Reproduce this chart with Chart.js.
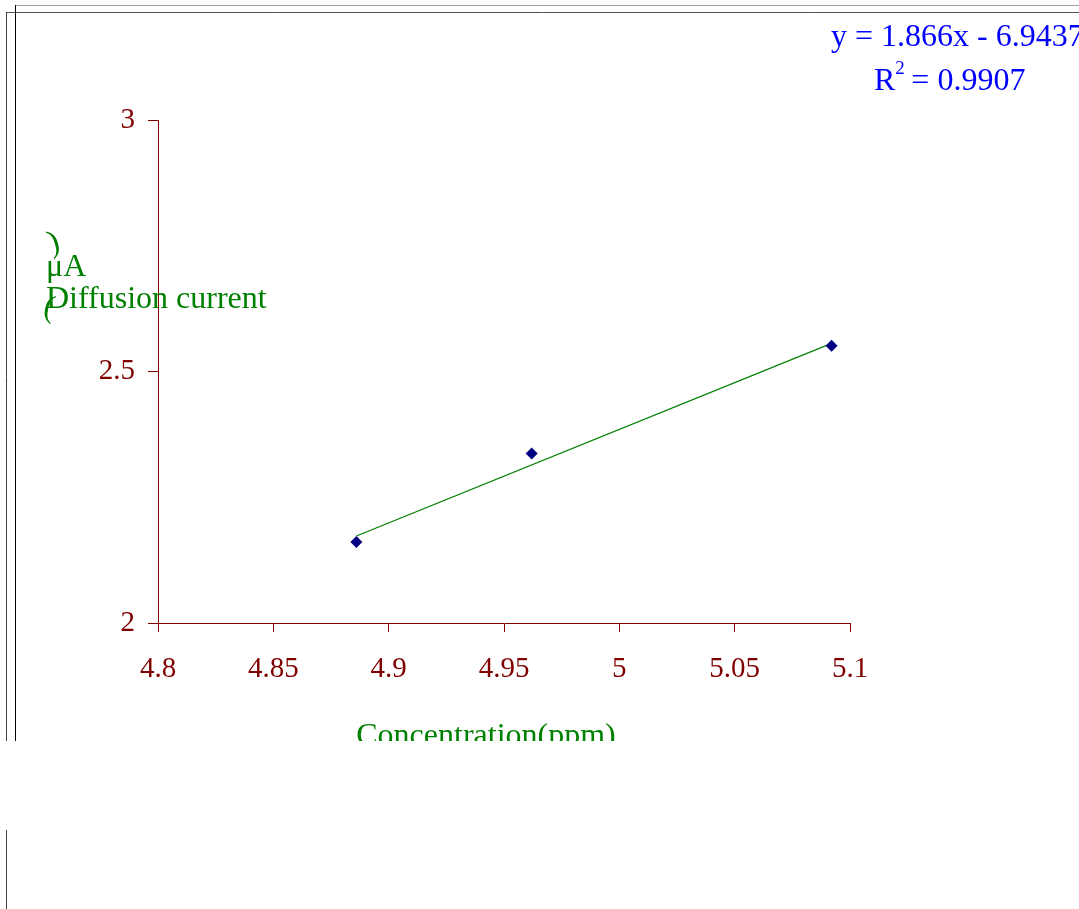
<!DOCTYPE html>
<html>
<head>
<meta charset="utf-8">
<script src="https://cdn.jsdelivr.net/npm/chart.js@4/dist/chart.umd.min.js"></script>
<style>
html,body{margin:0;padding:0;background:#fff;}
#wrap{position:absolute;left:0;top:0;width:1079px;height:909px;}
</style>
</head>
<body>
<div id="wrap"><canvas id="c" width="1079" height="909"></canvas></div>
<script>
// Data
const concentration = [4.886, 4.962, 5.092];
const current = [2.161, 2.337, 2.551];
const trendX = [4.886, 5.092];
const trendY = [2.173, 2.556];
const xTicks = [4.8, 4.85, 4.9, 4.95, 5, 5.05, 5.1];
const yTicks = [2, 2.5, 3];
const equationText = "y = 1.866x - 6.9437";
const r2Value = "0.9907";
const xTitle = "Concentration(ppm)";
const yTitleParts = [")", "\u03BCA", "Diffusion current", "("];

const RED = "#800000";
const GREEN = "#008000";
const SERIF = "'Liberation Serif', 'DejaVu Serif', serif";

const decor = {
  id: "decor",
  beforeDraw(chart) {
    const ctx = chart.ctx;
    ctx.save();
    ctx.fillStyle = "#fff";
    ctx.fillRect(0, 0, chart.width, chart.height);
    ctx.restore();
  },
  afterDraw(chart) {
    const ctx = chart.ctx;
    ctx.save();
    // equation
    ctx.fillStyle = "#0000FF";
    ctx.font = "32px " + SERIF;
    ctx.textBaseline = "alphabetic";
    ctx.textAlign = "left";
    ctx.fillText(equationText, 831, 46);
    ctx.fillText("R", 874, 90);
    const rw = ctx.measureText("R").width;
    ctx.font = "19px " + SERIF;
    ctx.fillText("2", 874 + rw, 74);
    ctx.font = "32px " + SERIF;
    ctx.fillText(" = " + r2Value, 874 + rw + 8, 90);

    // y title (broken vertical rendering)
    ctx.fillStyle = GREEN;
    ctx.font = "32px " + SERIF;
    ctx.fillText(yTitleParts[1], 46, 276);
    ctx.fillText(yTitleParts[2], 46, 308);
    ctx.save();
    ctx.translate(53, 242);
    ctx.rotate(-0.3);
    ctx.fillText(yTitleParts[0], -5, 10);
    ctx.restore();
    ctx.save();
    ctx.translate(50, 303);
    ctx.rotate(0.2);
    ctx.fillText(yTitleParts[3], -5, 14);
    ctx.restore();

    // x title
    ctx.textAlign = "center";
    ctx.fillText(xTitle, 486, 745);

    // clip region
    ctx.fillStyle = "#fff";
    ctx.fillRect(0, 741, chart.width, chart.height - 741);

    // frame lines
    ctx.lineWidth = 1;
    ctx.strokeStyle = "#a0a0a0";
    ctx.beginPath(); ctx.moveTo(15, 5.5); ctx.lineTo(1079, 5.5); ctx.stroke();
    ctx.strokeStyle = "#505050";
    ctx.beginPath(); ctx.moveTo(6, 12.5); ctx.lineTo(1079, 12.5); ctx.stroke();
    ctx.strokeStyle = "#000";
    ctx.beginPath(); ctx.moveTo(15.5, 5); ctx.lineTo(15.5, 741); ctx.stroke();
    ctx.strokeStyle = "#404040";
    ctx.beginPath(); ctx.moveTo(6.5, 12); ctx.lineTo(6.5, 741); ctx.stroke();
    ctx.beginPath(); ctx.moveTo(6.5, 830); ctx.lineTo(6.5, 909); ctx.stroke();
    ctx.restore();
  }
};

new Chart(document.getElementById("c"), {
  type: "scatter",
  data: {
    datasets: [
      {
        label: "Trend",
        type: "line",
        data: trendX.map((x, i) => ({ x: x, y: trendY[i] })),
        borderColor: GREEN,
        borderWidth: 1.2,
        pointRadius: 0,
        fill: false,
        order: 2
      },
      {
        label: "Diffusion current",
        data: concentration.map((x, i) => ({ x: x, y: current[i] })),
        backgroundColor: "#000080",
        borderColor: "#000080",
        pointStyle: "rectRot",
        pointRadius: 6,
        borderWidth: 0,
        order: 1
      }
    ]
  },
  options: {
    responsive: false,
    animation: false,
    events: [],
    layout: { padding: { left: 0, top: 120, right: 229, bottom: 186 } },
    plugins: { legend: { display: false }, tooltip: { enabled: false } },
    scales: {
      x: {
        type: "linear",
        min: 4.8, max: 5.1,
        afterBuildTicks(s) { s.ticks = xTicks.map(v => ({ value: v })); },
        afterFit(s) { s.height = 100; },
        border: { color: RED, width: 1 },
        grid: { drawOnChartArea: false, color: RED, tickLength: 9 },
        ticks: {
          color: RED,
          font: { family: SERIF, size: 29 },
          padding: 20,
          callback: v => String(v)
        }
      },
      y: {
        type: "linear",
        min: 2, max: 3,
        afterBuildTicks(s) { s.ticks = yTicks.map(v => ({ value: v })); },
        afterFit(s) { s.width = 158; },
        border: { color: RED, width: 1 },
        grid: { drawOnChartArea: false, color: RED, tickLength: 10 },
        ticks: {
          color: RED,
          font: { family: SERIF, size: 29 },
          padding: 13,
          callback: v => String(v)
        }
      }
    }
  },
  plugins: [decor]
});
</script>
</body>
</html>
